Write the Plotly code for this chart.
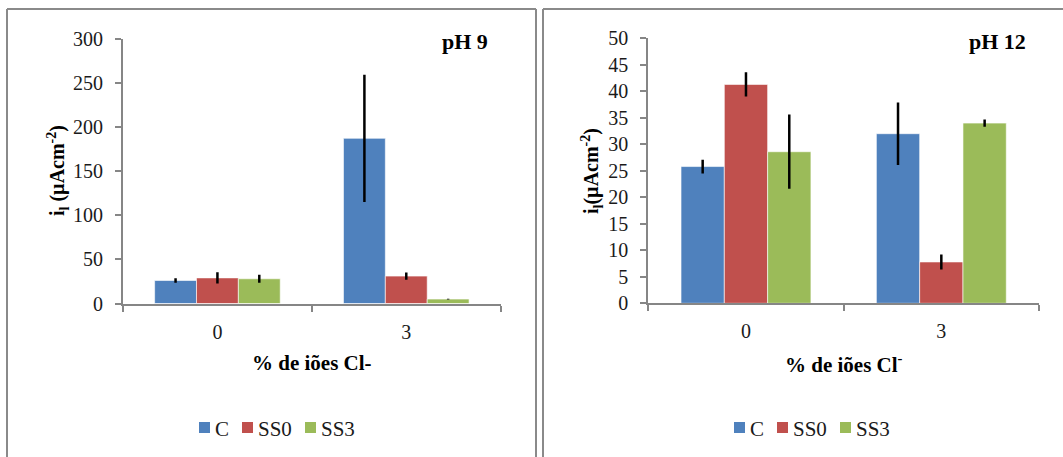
import plotly.graph_objects as go

# Chloride content categories (%)
categories = ["0", "3"]
series_names = ["C", "SS0", "SS3"]
colors = ["#4F81BD", "#C0504D", "#9BBB59"]

# Limiting current density i_l (µA/cm²) at pH 9
ph9_values = {"C": [26, 187], "SS0": [29, 31], "SS3": [28, 5]}
ph9_errors = {"C": [2.5, 72], "SS0": [6.4, 4], "SS3": [4.5, 0.5]}

# Limiting current density i_l (µA/cm²) at pH 12
ph12_values = {"C": [25.8, 32], "SS0": [41.3, 7.8], "SS3": [28.6, 34]}
ph12_errors = {"C": [1.3, 5.9], "SS0": [2.3, 1.4], "SS3": [7.0, 0.7]}

W, H = 1063, 457
FONT = "Liberation Serif"
AXIS_GREY = "#868686"
FRAME_GREY = "#8a8a8a"


def px_x(v):
    return v / W


def px_y(v):
    return 1 - v / H


fig = go.Figure()

for values, errors, xa, ya in [
    (ph9_values, ph9_errors, "x", "y"),
    (ph12_values, ph12_errors, "x2", "y2"),
]:
    for name, color in zip(series_names, colors):
        fig.add_trace(go.Bar(
            x=categories,
            y=values[name],
            name=name,
            marker=dict(color=color, line=dict(color="rgba(255,255,255,0.6)", width=1)),
            error_y=dict(type="data", array=errors[name], color="black",
                         thickness=2.5, width=0),
            xaxis=xa, yaxis=ya,
            showlegend=False,
        ))

axis_common = dict(
    showline=True, linecolor=AXIS_GREY, linewidth=2,
    ticks="outside", tickcolor=AXIS_GREY, ticklen=6, tickwidth=1.5,
    showgrid=False, zeroline=False, automargin=False,
    tickfont=dict(family=FONT, size=20, color="#1a1a1a"),
)
x_axis = dict(type="category", tickson="boundaries", ticklabelstandoff=9, **axis_common)
y_axis = dict(ticklabelstandoff=8, **axis_common)

fig.update_layout(
    template="none",
    width=W, height=H,
    autosize=False,
    margin=dict(l=0, r=0, t=0, b=0, pad=0),
    paper_bgcolor="white", plot_bgcolor="white",
    font=dict(family=FONT),
    barmode="group", bargap=0.335, bargroupgap=0,
    showlegend=False,
    xaxis=dict(domain=[px_x(123), px_x(500.7)], anchor="y", **x_axis),
    yaxis=dict(domain=[px_y(303.5), px_y(38.5)], anchor="x", range=[0, 300],
               tickvals=list(range(0, 301, 50)), **y_axis),
    xaxis2=dict(domain=[px_x(648.3), px_x(1039)], anchor="y2", **x_axis),
    yaxis2=dict(domain=[px_y(303.3), px_y(38.3)], anchor="x2", range=[0, 50],
                tickvals=list(range(0, 51, 5)), **y_axis),
)

# Panel frames (kept inside the page)
frame = dict(type="line", xref="paper", yref="paper",
             line=dict(color=FRAME_GREY, width=2))
for x0, x1 in [(7, 536), (543, None)]:
    right = 1063 if x1 is None else x1
    fig.add_shape(x0=px_x(x0), x1=px_x(right), y0=px_y(9), y1=px_y(9), **frame)
    fig.add_shape(x0=px_x(x0), x1=px_x(x0), y0=px_y(9), y1=0, **frame)
    if x1 is not None:
        fig.add_shape(x0=px_x(x1), x1=px_x(x1), y0=px_y(9), y1=0, **frame)

title_font = dict(family=FONT, size=21, color="black")
ytitle_font = dict(family=FONT, size=20, color="black")
panel_font = dict(family=FONT, size=22, color="black")

annotations = [
    # panel labels
    dict(x=px_x(465), y=px_y(42), text="<b>pH 9</b>", font=panel_font),
    dict(x=px_x(997), y=px_y(42), text="<b>pH 12</b>", font=panel_font),
    # x-axis titles
    dict(x=px_x(312), y=px_y(363), text="<b>% de iões Cl-</b>", font=title_font),
    dict(x=px_x(844), y=px_y(363), text="<b>% de iões Cl<sup>-</sup></b>", font=title_font),
    # y-axis titles
    dict(x=px_x(58), y=px_y(171), text="<b>i<sub>l</sub> (µAcm<sup>-2</sup>)</b>",
         textangle=-90, font=ytitle_font),
    dict(x=px_x(592), y=px_y(171), text="<b>i<sub>l</sub>(µAcm<sup>-2</sup>)</b>",
         textangle=-90, font=ytitle_font),
]
for a in annotations:
    a.update(xref="paper", yref="paper", showarrow=False, xanchor="center", yanchor="middle")
    fig.add_annotation(**a)

# Legends, one under each panel
legend_font = dict(family=FONT, size=21, color="#1a1a1a")
for start in (199, 734):
    offsets = [0, 43, 106]
    for name, color, off in zip(series_names, colors, offsets):
        sx = start + off
        fig.add_shape(type="rect", xref="paper", yref="paper",
                      x0=px_x(sx), x1=px_x(sx + 11), y0=px_y(433), y1=px_y(422),
                      fillcolor=color, line=dict(width=0))
        fig.add_annotation(x=px_x(sx + 14), y=px_y(428.5), xref="paper", yref="paper",
                           text=name, showarrow=False, xanchor="left", yanchor="middle",
                           font=legend_font)

fig.write_html("out.html")
